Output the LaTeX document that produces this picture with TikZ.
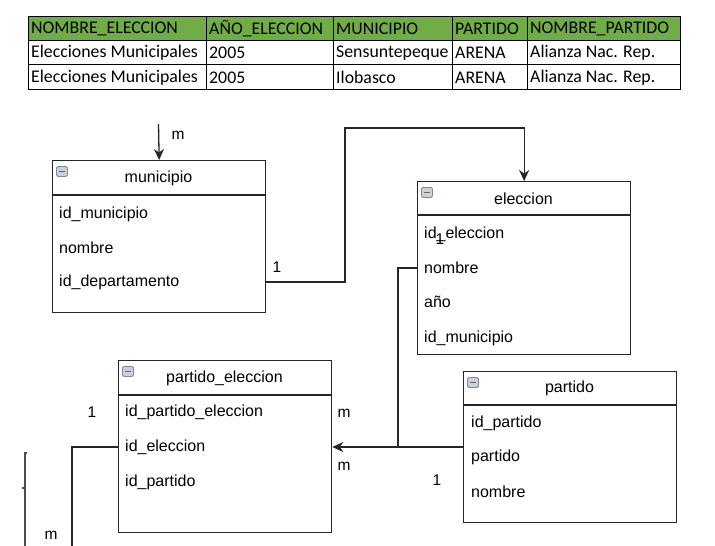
\documentclass[tikz,border=0pt]{standalone}
\usepackage{fontspec}
\setmainfont{Liberation Sans}
\newfontfamily\calfont{Carlito}
\usetikzlibrary{arrows.meta}
\definecolor{hdrgreen}{HTML}{70AD47}
\definecolor{iconfill}{HTML}{C9D1DC}
\definecolor{icondraw}{HTML}{7F8A99}
\tikzset{
  ent/.style={draw=black!85, line width=1.3pt, anchor=north west, inner sep=0pt},
  fld/.style={anchor=west, inner sep=0pt, font=\fontsize{16}{18}\selectfont},
  ttl/.style={inner sep=0pt, font=\fontsize{16}{18}\selectfont},
  card/.style={inner sep=0pt, font=\fontsize{15.5}{18}\selectfont},
  conn/.style={line width=1.3pt, draw=black!85},
  arr/.style={conn, -{Stealth[length=11pt,width=10pt,inset=3.5pt]}},
  cell/.style={anchor=west, inner sep=0pt, font=\calfont\fontsize{17.8}{20}\selectfont},
  tline/.style={line width=1pt, draw=black}
}
\newcommand{\entityicon}[2]{%
  \node[draw=icondraw, fill=iconfill, rounded corners=1.5pt, line width=0.9pt, minimum width=11pt, minimum height=10pt, inner sep=0pt, anchor=north west] (#2) at #1 {};
  \draw[line width=1.3pt, draw=black!60] ([xshift=3pt]#2.center) -- ([xshift=-3pt]#2.center);
}
\begin{document}
\begin{tikzpicture}[x=1pt,y=-1pt]
\useasboundingbox (0,0) rectangle (715,546);
\fill[white] (0,0) rectangle (715,546);

% ---------- table ----------
\fill[hdrgreen] (28,16) rectangle (680,40);
\draw[tline] (28,16) rectangle (680,89);
\draw[tline] (28,40) -- (680,40);
\draw[tline] (28,64.5) -- (680,64.5);
\foreach \cx in {206,333,452,527} \draw[tline] (\cx,16) -- (\cx,89);
\node[cell] (h1) at (31,28.5) {NOMBRE\_ELECCION};
\node[cell] (h2) at (209,28.5) {AÑO\_ELECCION};
\node[cell] (h3) at (336,28.5) {MUNICIPIO};
\node[cell] (h4) at (455,28.5) {PARTIDO};
\node[cell] (h5) at (530,28.5) {NOMBRE\_PARTIDO};
\node[cell] (r1a) at (31,53) {Elecciones Municipales};
\node[cell] (r1b) at (209,53) {2005};
\node[cell] (r1c) at (336,53) {Sensuntepeque};
\node[cell] (r1d) at (455,53) {ARENA};
\node[cell] (r1e) at (530,53) {Alianza Nac. Rep.};
\node[cell] (r2a) at (31,77.5) {Elecciones Municipales};
\node[cell] (r2b) at (209,77.5) {2005};
\node[cell] (r2c) at (336,77.5) {Ilobasco};
\node[cell] (r2d) at (455,77.5) {ARENA};
\node[cell] (r2e) at (530,77.5) {Alianza Nac. Rep.};

% ---------- municipio ----------
\node[ent, minimum width=213pt, minimum height=152pt] (mun) at (52,160) {};
\draw[conn] (52,195) -- (265,195);
\entityicon{(56,166)}{municon}
\node[ttl] (munt) at (158.5,178.5) {municipio};
\node[fld] (mun1) at (59,214) {id\_municipio};
\node[fld] (mun2) at (59,248) {nombre};
\node[fld] (mun3) at (59,282) {id\_departamento};

% ---------- eleccion ----------
\node[ent, minimum width=213pt, minimum height=173pt] (elec) at (417,181) {};
\draw[conn] (417,215) -- (630,215);
\entityicon{(421,187)}{elecicon}
\node[ttl] (elect) at (523.5,198.5) {eleccion};
\node[fld] (elec1) at (424,234) {id\_eleccion};
\node[fld] (elec2) at (424,268) {nombre};
\node[fld] (elec3) at (424,302) {año};
\node[fld] (elec4) at (424,338) {id\_municipio};

% ---------- partido_eleccion ----------
\node[ent, minimum width=213pt, minimum height=172pt] (pe) at (118,360) {};
\draw[conn] (118,395) -- (331,395);
\entityicon{(122,366)}{peicon}
\node[ttl] (pet) at (224.5,378.5) {partido\_eleccion};
\node[fld] (pe1) at (125,412) {id\_partido\_eleccion};
\node[fld] (pe2) at (125,447) {id\_eleccion};
\node[fld] (pe3) at (125,482) {id\_partido};

% ---------- partido ----------
\node[ent, minimum width=213pt, minimum height=151pt] (par) at (463,371) {};
\draw[conn] (463,405) -- (676,405);
\entityicon{(467,377)}{paricon}
\node[ttl] (part) at (569.5,388.5) {partido};
\node[fld] (par1) at (471,423) {id\_partido};
\node[fld] (par2) at (471,457) {partido};
\node[fld] (par3) at (471,492) {nombre};

% ---------- connectors ----------
\coordinate (mtop) at (158.5,124);
\draw[arr] (mtop) -- (mun.north);

\coordinate (t1) at (345,128);
\draw[arr] (mun.east |- mun3) -| (t1) -| (elec.north);

\coordinate (j1) at (398,447);
\draw[conn] (elec.west |- elec2) -| (j1);
\draw[arr] (par.west |- pe2) -- (pe.east |- pe2);

\coordinate (b1) at (72,546);
\draw[conn] (pe.west |- pe2) -| (b1);

\coordinate (g1) at (25,453);
\coordinate (g2) at (25,546);
\draw[line width=1.3pt, draw=black!70] ([xshift=2pt]g1) -- (g1) -- (g2);
\draw[line width=1.3pt, draw=black!70] (22,488) -- (25,488);

% ---------- cardinalities ----------
\node[card] (c1) at (178,135) {m};
\node[card] (c2) at (277,267) {1};
\node[card] (c3) at (440,239) {1};
\node[card] (c4) at (92,412) {1};
\node[card] (c5) at (344,413) {m};
\node[card] (c6) at (344,466) {m};
\node[card] (c7) at (437,480) {1};
\node[card] (c8) at (51,535) {m};
\end{tikzpicture}
\end{document}
